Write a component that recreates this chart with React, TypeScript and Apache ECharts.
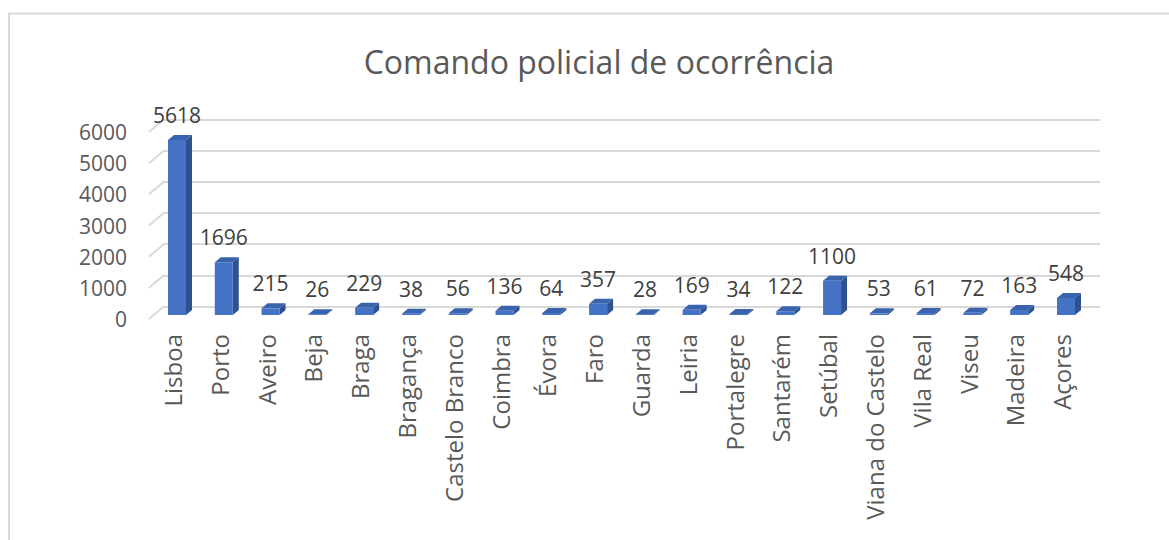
import React, { useEffect, useRef } from "react";
import * as echarts from "echarts";

const categories = [
  "Lisboa", "Porto", "Aveiro", "Beja", "Braga", "Bragança", "Castelo Branco",
  "Coimbra", "Évora", "Faro", "Guarda", "Leiria", "Portalegre", "Santarém",
  "Setúbal", "Viana do Castelo", "Vila Real", "Viseu", "Madeira", "Açores",
];
const values = [5618, 1696, 215, 26, 229, 38, 56, 136, 64, 357, 28, 169, 34, 122, 1100, 53, 61, 72, 163, 548];
const yTicks = [0, 1000, 2000, 3000, 4000, 5000, 6000];
const titleText = "Comando policial de ocorrência";

const FONT = "Open Sans";

export default function App() {
  const ref = useRef<HTMLDivElement>(null);
  useEffect(() => {
    if (!ref.current) return;
    const chart = echarts.init(ref.current, undefined, { renderer: "svg" });
    const option: any = {
      animation: false,
      backgroundColor: "#ffffff",
      title: {
        text: titleText,
        left: 594,
        top: 40,
        textAlign: "center",
        textStyle: { fontFamily: FONT, fontSize: 32, fontWeight: "normal", color: "#595959" },
      },
      graphic: [
        {
          type: "rect",
          shape: { x: 9, y: 13.5, width: 1300, height: 700 },
          style: { fill: "none", stroke: "#d9d9d9", lineWidth: 2 },
          silent: true,
        },
      ],
      grid: [
        // 0: bars (front plane)
        { left: 153.6, right: 79.6, top: 128, bottom: 225 },
        // 1: back wall gridlines
        { left: 163, right: 69, top: 119.3, bottom: 233.3 },
        // 2: axis labels plane
        { left: 149, right: 84, top: 132, bottom: 221 },
      ],
      xAxis: [
        { gridIndex: 0, type: "category", data: categories, show: false },
        { gridIndex: 1, type: "value", min: 0, max: 1, show: false },
        {
          gridIndex: 2,
          type: "category",
          data: categories,
          axisLine: { show: false },
          axisTick: { show: false },
          axisLabel: {
            interval: 0,
            rotate: 90,
            margin: 15,
            fontFamily: FONT,
            fontSize: 24,
            color: "#595959",
          },
        },
      ],
      yAxis: [
        { gridIndex: 0, type: "value", min: 0, max: 6000, interval: 1000, show: false },
        {
          gridIndex: 1,
          type: "value",
          min: 0,
          max: 6000,
          interval: 1000,
          axisLine: { show: false },
          axisTick: { show: false },
          axisLabel: { show: false },
          splitLine: { show: true, lineStyle: { color: "#d9d9d9", width: 2 } },
        },
        {
          gridIndex: 2,
          type: "value",
          min: 0,
          max: 6000,
          interval: 1000,
          axisLine: { show: false },
          axisTick: { show: false },
          splitLine: { show: false },
          axisLabel: {
            margin: 22,
            fontFamily: FONT,
            fontSize: 21,
            color: "#595959",
            formatter: (v: number) => String(v),
          },
        },
      ],
      series: [
        {
          type: "custom",
          xAxisIndex: 2,
          yAxisIndex: 2,
          data: yTicks.map((v) => [0, v]),
          renderItem: (params: any, api: any) => {
            const p = api.coord([0, api.value(1)]);
            const band = api.size([1, 0])[0];
            const x = p[0] - band / 2;
            return {
              type: "line",
              shape: { x1: x, y1: p[1], x2: x + 15, y2: p[1] - 12.7 },
              style: { stroke: "#d9d9d9", lineWidth: 2 },
              silent: true,
            };
          },
        },
        {
          type: "custom",
          xAxisIndex: 0,
          yAxisIndex: 0,
          data: values.map((v, i) => [i, v]),
          renderItem: (params: any, api: any) => {
            const i = api.value(0);
            const v = api.value(1);
            const top = api.coord([i, v]);
            const base = api.coord([i, 0]);
            const w = 18;
            const dx = 6;
            const dy = 5;
            const x0 = top[0] - w / 2;
            const x1 = top[0] + w / 2;
            const yT = top[1];
            const yB = base[1];
            return {
              type: "group",
              children: [
                {
                  type: "polygon",
                  shape: { points: [[x1, yT], [x1 + dx, yT - dy], [x1 + dx, yB - dy], [x1, yB]] },
                  style: { fill: "#2f528f" },
                },
                {
                  type: "polygon",
                  shape: { points: [[x0, yT], [x0 + dx, yT - dy], [x1 + dx, yT - dy], [x1, yT]] },
                  style: { fill: "#3a62ad" },
                },
                {
                  type: "rect",
                  shape: { x: x0, y: yT, width: w, height: Math.max(yB - yT, 0) },
                  style: { fill: "#4472c4" },
                },
                {
                  type: "text",
                  style: {
                    text: String(v),
                    x: top[0],
                    y: yT - 25,
                    align: "center",
                    verticalAlign: "middle",
                    fontFamily: FONT,
                    fontSize: 21,
                    fill: "#404040",
                  },
                },
              ],
            };
          },
        },
      ],
    };
    chart.setOption(option);
    return () => chart.dispose();
  }, []);
  return (
    <div
      ref={ref}
      style={{ position: "fixed", left: 0, top: 0, width: 1169, height: 540 }}
    />
  );
}
